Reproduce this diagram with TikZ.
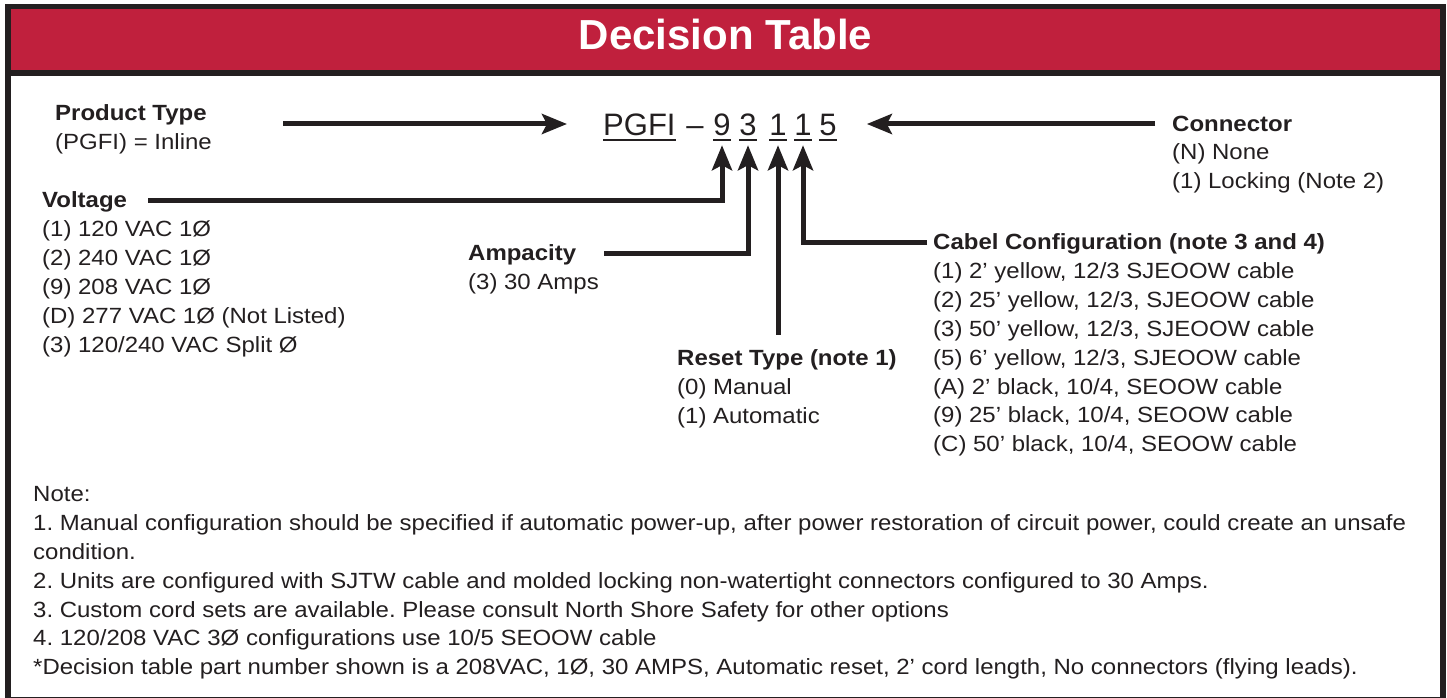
\documentclass[tikz,border=0pt]{standalone}
\usepackage{fontspec}
\setmainfont{Liberation Sans}
\newfontfamily\bodyfont[FakeStretch=1.09]{Liberation Sans}
\usetikzlibrary{arrows.meta}
\frenchspacing

\definecolor{tablered}{RGB}{192,32,61}
\definecolor{inkblack}{RGB}{35,31,32}

\begin{document}
\begin{tikzpicture}[x=1pt,y=-1pt,
    head/.style={font=\bodyfont\fontsize{22}{28.8}\selectfont\bfseries,anchor=west,inner sep=0pt,text height=15.75pt,text depth=0pt,text=inkblack},
    items/.style={font=\bodyfont\fontsize{22}{28.8}\selectfont,align=left,anchor=base west,inner sep=0pt,text=inkblack},
    digit/.style={font=\fontsize{31}{31}\selectfont,inner sep=0pt,text height=22.4pt,text depth=4.3pt,text=inkblack},
    arr/.style={draw=inkblack,line width=5pt,-{Stealth[length=25pt,width=20pt,inset=5pt]}},
    uline/.style={draw=inkblack,line width=1.6pt}]

      \useasboundingbox (0,0) rectangle (1447,698);

      % frame and title bar
      \fill[inkblack] (5,4) rectangle (1446,698);
      \fill[white] (11,76) rectangle (1440,697);
      \fill[tablered] (11,9) rectangle (1440,70);
      \node[font=\fontsize{42}{42}\selectfont\bfseries,text=white,inner sep=0pt,text height=30pt,text depth=0pt] (title) at (725.5,35){Decision Table};

      % part number
      \node[digit,anchor=west] (pgfi) at (603,126.65){PGFI};
      \node[digit] (dash) at (695,126.65){–};
      \node[digit] (d9) at (722,126.65){9};
      \node[digit] (d3) at (748,126.65){3};
      \node[digit] (d1a) at (778,126.65){1};
      \node[digit] (d1b) at (803,126.65){1};
      \node[digit] (d5) at (828,126.65){5};
      \foreach \n in {pgfi,d9,d3,d1a,d1b,d5}
        \draw[uline] (\n.south west) -- (\n.south east);

      % headings
      \node[head] (ptype) at (55,113){Product Type};
      \node[head] (volt) at (42,200){Voltage};
      \node[head] (amp) at (468,253){Ampacity};
      \node[head] (reset) at (677,358){Reset Type (note 1)};
      \node[head] (cable) at (933,242){Cabel Configuration (note 3 and 4)};
      \node[head] (conn) at (1172,124){Connector};

      % choices (base = last line)
      \node[items] (ptypelist) at (55,149.9){(PGFI) = Inline};
      \node[items] (voltlist) at (42,352.1){(1) 120 VAC 1Ø\\(2) 240 VAC 1Ø\\(9) 208 VAC 1Ø\\(D) 277 VAC 1Ø (Not Listed)\\(3) 120/240 VAC Split Ø};
      \node[items] (amplist) at (468,289.9){(3) 30 Amps};
      \node[items] (resetlist) at (677,423.7){(0) Manual\\(1) Automatic};
      \node[items] (cablelist) at (933,451.7){(1) 2’ yellow, 12/3 SJEOOW cable\\(2) 25’ yellow, 12/3, SJEOOW cable\\(3) 50’ yellow, 12/3, SJEOOW cable\\(5) 6’ yellow, 12/3, SJEOOW cable\\(A) 2’ black, 10/4, SEOOW cable\\(9) 25’ black, 10/4, SEOOW cable\\(C) 50’ black, 10/4, SEOOW cable};
      \node[items] (connlist) at (1172,188.7){(N) None\\(1) Locking (Note 2)};

      % notes
      \node[items] (notes) at (33,674.7){Note:\\1. Manual configuration should be specified if automatic power-up, after power restoration of circuit power, could create an unsafe\\condition.\\2. Units are configured with SJTW cable and molded locking non-watertight connectors configured to 30 Amps.\\3. Custom cord sets are available. Please consult North Shore Safety for other options\\4. 120/208 VAC 3Ø configurations use 10/5 SEOOW cable\\*Decision table part number shown is a 208VAC, 1Ø, 30 AMPS, Automatic reset, 2’ cord length, No connectors (flying leads).};

      % arrows
      \coordinate (ptypeend) at (283,124);
      \draw[arr,shorten >=36pt] (ptypeend) -- (ptypeend -| pgfi.west);
      \draw[arr,shorten <=17pt,shorten >=30pt] (conn.west) -- (conn.west -| d5.east);
      \draw[arr,shorten <=21pt,shorten >=5pt] (volt.east) -| (d9.south);
      \draw[arr,shorten <=28pt,shorten >=5pt] (amp.east) -| (d3.south);
      \draw[arr,shorten <=15pt,shorten >=5pt] (reset.north -| d1a.south) -- (d1a.south);
      \draw[arr,shorten <=6pt,shorten >=5pt] (cable.west) -| (d1b.south);

    \end{tikzpicture}
\end{document}
